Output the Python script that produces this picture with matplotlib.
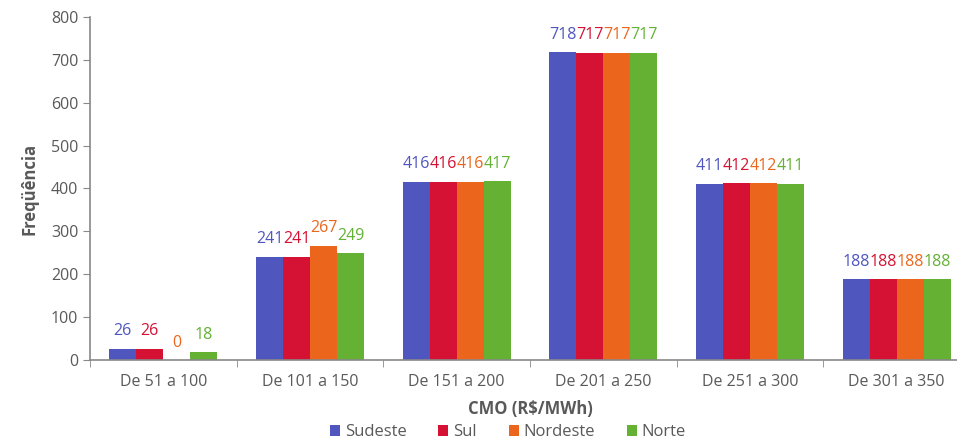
import numpy as np
import matplotlib.pyplot as plt

# Data
categorias = ["De 51 a 100", "De 101 a 150", "De 151 a 200",
              "De 201 a 250", "De 251 a 300", "De 301 a 350"]
sudeste = [26, 241, 416, 718, 411, 188]
sul = [26, 241, 416, 717, 412, 188]
nordeste = [0, 267, 416, 717, 412, 188]
norte = [18, 249, 417, 717, 411, 188]

series = [("Sudeste", sudeste, "#4F56BE"),
          ("Sul", sul, "#D51234"),
          ("Nordeste", nordeste, "#EB661C"),
          ("Norte", norte, "#64B134")]

plt.rcParams['font.family'] = ['Open Sans', 'DejaVu Sans']
gray = "#595959"

fig = plt.figure(figsize=(9.57, 4.44), dpi=100)
ax = fig.add_axes([90 / 957, 84 / 444, 880 / 957, 343 / 444])

x = np.arange(len(categorias))
w = 0.184
for i, (nome, vals, cor) in enumerate(series):
    pos = x + (i - 1.5) * w
    ax.bar(pos, vals, width=w, color=cor, label=nome)
    for p, v in zip(pos, vals):
        ax.annotate(str(v), (p, v), xytext=(0, 12.5), textcoords="offset points",
                    ha="center", va="center", color=cor, fontsize=11.5)

ax.set_xlim(-0.5, len(categorias) - 0.5)
ax.set_ylim(0, 800)
ax.set_yticks(range(0, 801, 100))
ax.set_xticks(x)
ax.set_xticklabels(categorias)
ax.set_xticks(np.arange(-0.5, len(categorias), 1), minor=True)
ax.tick_params(axis="x", which="major", length=0, pad=10, labelsize=11.5, labelcolor=gray)
ax.tick_params(axis="x", which="minor", length=5, color="#888888")
ax.tick_params(axis="y", length=5, color="#888888", labelsize=11.5, labelcolor=gray)

for s in ["top", "right"]:
    ax.spines[s].set_visible(False)
for s in ["left", "bottom"]:
    ax.spines[s].set_color("#888888")
    ax.spines[s].set_linewidth(1.2)

ax.set_xlabel("CMO (R$/MWh)", fontsize=12, fontweight="bold", color=gray, labelpad=7)
ax.set_ylabel("Freqüência", fontsize=12, fontweight="bold", color=gray, labelpad=9)

fig.legend(loc="lower center", bbox_to_anchor=(508 / 957, -0.025), ncol=4,
           frameon=False, fontsize=12, handlelength=0.6, handleheight=0.6,
           handletextpad=0.3, columnspacing=1.9, labelcolor=gray)

fig.savefig("out.png", dpi=100)
